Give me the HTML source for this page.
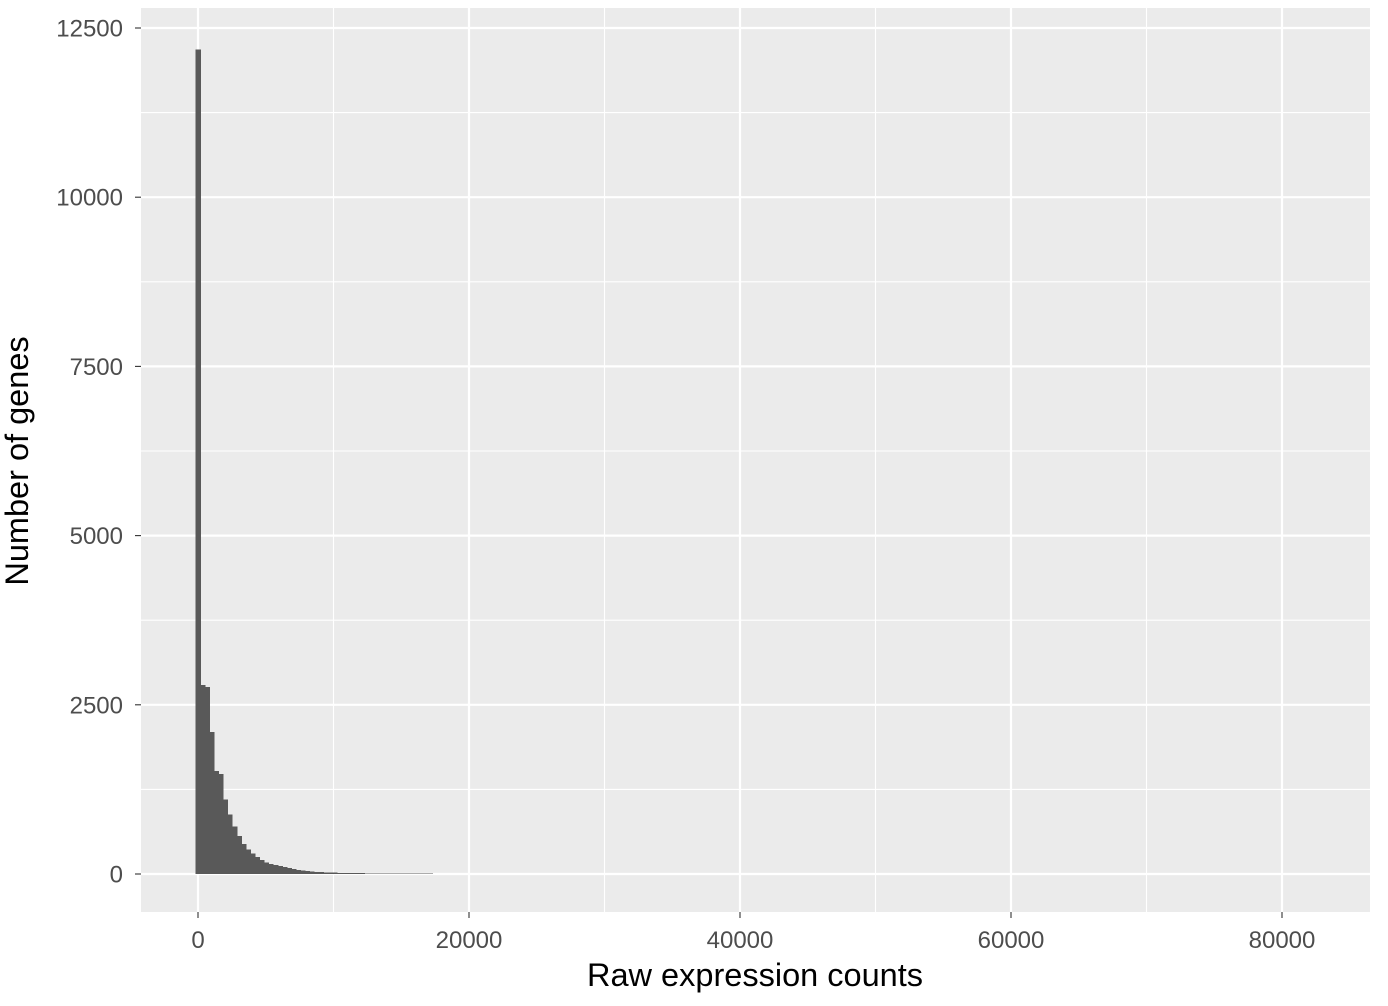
<!DOCTYPE html>
<html><head><meta charset="utf-8"><style>
html,body{margin:0;padding:0;background:#fff;}
svg{display:block;font-family:"Liberation Sans",Arial,sans-serif;}
</style></head><body>
<svg id="chart" width="1388" height="1006" xmlns="http://www.w3.org/2000/svg">
<rect x="141" y="8" width="1229" height="904" fill="#ebebeb"/>
<g id="grid"></g>
<g id="bars" shape-rendering="crispEdges"></g>
<g id="ticks"></g>
<text x="755" y="986" text-anchor="middle" font-size="32.5" fill="#000">Raw expression counts</text>
<text transform="translate(28,461) rotate(-90)" text-anchor="middle" font-size="32.5" fill="#000">Number of genes</text>
</svg>
<script>
const binWidth = 336;
const counts = [12180,2790,2760,2100,1520,1480,1100,880,700,560,440,360,300,250,210,170,150,130,115,100,85,72,60,50,44,38,33,28,25,22,20,18,16,15,14,13,12,11,10,9,8,8,7,7,6,6,5,5,5,4,4,4,3,3,3,3,2,2,2,2,2,2,2,1,1,1,1,1,1,1];
const xTicks = [0,20000,40000,60000,80000];
const xTickLabels = ["0","20000","40000","60000","80000"];
const yTicks = [0,2500,5000,7500,10000,12500];
const yTickLabels = ["0","2500","5000","7500","10000","12500"];

const NS="http://www.w3.org/2000/svg";
const xs = v => 198 + (v/20000)*271;
const ys = v => 874 - (v/12500)*846;
function mk(tag,attrs,parent){const e=document.createElementNS(NS,tag);for(const k in attrs)e.setAttribute(k,attrs[k]);parent.appendChild(e);return e;}
const grid=document.getElementById('grid'), bars=document.getElementById('bars'), ticks=document.getElementById('ticks');
for(let i=0;i<xTicks.length+1;i++){const v=(i-0.5)*20000;const x=xs(v);if(x>141&&x<1370){const l=mk('line',{x1:x,x2:x,y1:8,y2:912,stroke:'#fff','stroke-width':1.1},grid);

}}
for(let i=0;i<yTicks.length+1;i++){const v=(i+0.5)*2500;const y=ys(v);if(y>8&&y<912){const l=mk('line',{x1:141,x2:1370,y1:y,y2:y,stroke:'#fff','stroke-width':1.1},grid);

}}
xTicks.forEach((v,i)=>{const x=xs(v);
const l=mk('line',{x1:x,x2:x,y1:8,y2:912,stroke:'#fff','stroke-width':2.2},grid);


const t=mk('line',{x1:x,x2:x,y1:912,y2:918,stroke:'#333','stroke-width':1.1},ticks);


const tx=mk('text',{x:x,y:948,'text-anchor':'middle','font-size':24,fill:'#4d4d4d'},ticks);tx.textContent=xTickLabels[i];

});
yTicks.forEach((v,i)=>{const y=ys(v);
const l=mk('line',{x1:141,x2:1370,y1:y,y2:y,stroke:'#fff','stroke-width':2.2},grid);


const t=mk('line',{x1:135,x2:141,y1:y,y2:y,stroke:'#333','stroke-width':1.1},ticks);


const tx=mk('text',{x:123,y:y+8.5,'text-anchor':'end','font-size':24,fill:'#4d4d4d'},ticks);tx.textContent=yTickLabels[i];

});
counts.forEach((c,i)=>{const x0=xs((i-0.5)*binWidth), x1=xs((i+0.5)*binWidth);
const r=mk('rect',{x:x0,y:ys(c),width:x1-x0+0.6,height:ys(0)-ys(c),fill:'#595959'},bars);

});
</script>
</body></html>
